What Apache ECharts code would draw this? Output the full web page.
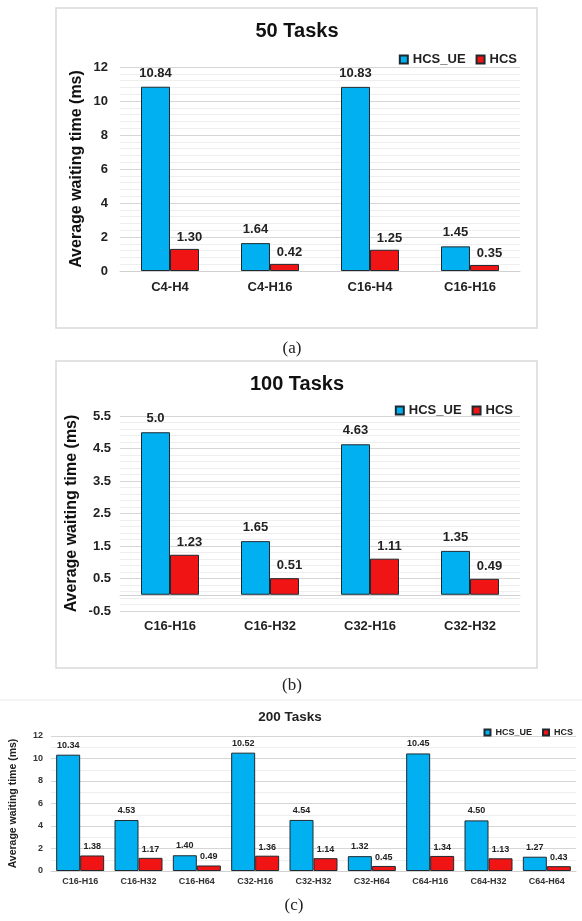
<!DOCTYPE html>
<html>
<head>
<meta charset="utf-8">
<script src="https://cdn.jsdelivr.net/npm/echarts@6/dist/echarts.min.js"></script>
<style>
  html, body { margin: 0; padding: 0; background: #ffffff; }
  #chart { width: 582px; height: 921px; }
</style>
</head>
<body>
<div id="chart"></div>
<script>
// Series names shared by all three panels
const seriesNames = ['HCS_UE', 'HCS'];

// (a) 50 tasks
const catsA = ['C4-H4', 'C4-H16', 'C16-H4', 'C16-H16'];
const ueA   = ['10.84', '1.64', '10.83', '1.45'];
const hcsA  = ['1.30', '0.42', '1.25', '0.35'];

// (b) 100 tasks
const catsB = ['C16-H16', 'C16-H32', 'C32-H16', 'C32-H32'];
const ueB   = ['5.0', '1.65', '4.63', '1.35'];
const hcsB  = ['1.23', '0.51', '1.11', '0.49'];

// (c) 200 tasks
const catsC = ['C16-H16', 'C16-H32', 'C16-H64', 'C32-H16', 'C32-H32', 'C32-H64', 'C64-H16', 'C64-H32', 'C64-H64'];
const ueC   = ['10.34', '4.53', '1.40', '10.52', '4.54', '1.32', '10.45', '4.50', '1.27'];
const hcsC  = ['1.38', '1.17', '0.49', '1.36', '1.14', '0.45', '1.34', '1.13', '0.43'];

const titles = ['50 Tasks', '100 Tasks', '200 Tasks'];
const panelTags = ['(a)', '(b)', '(c)'];
const yName = 'Average waiting time (ms)';

const SANS = '"Liberation Sans", Arial, sans-serif';
const SERIF = '"Liberation Serif", "Times New Roman", serif';
const BLUE = '#00B0F0';
const RED = '#F01414';
const MAJOR = '#d6d6d6';
const MINOR = '#eeeeee';

function catAxis(gridIndex, data, fontSize, margin, color, extra) {
  return Object.assign({
    type: 'category', gridIndex, data,
    axisTick: { show: false },
    axisLine: { lineStyle: { color: '#d0d0d0', width: 1 } },
    axisLabel: { fontFamily: SANS, fontWeight: 'bold', fontSize, margin, color, interval: 0 }
  }, extra || {});
}

function barSeries(name, xi, yi, data, color, barWidth, labelCfg) {
  return {
    type: 'bar', name, xAxisIndex: xi, yAxisIndex: yi, data,
    barWidth, barGap: '0%',
    itemStyle: { color, borderColor: '#1e2a30', borderWidth: 1 },
    label: Object.assign({
      show: true, position: 'top',
      fontFamily: SANS, fontWeight: 'bold', color: '#222',
      formatter: p => p.data
    }, labelCfg)
  };
}

function legend(right, top, icon, fontSize) {
  return {
    data: seriesNames, right, top, padding: 0,
    icon: 'rect', itemWidth: icon, itemHeight: icon, itemGap: 10,
    textStyle: { fontFamily: SANS, fontWeight: 'bold', fontSize, color: '#222' }
  };
}

function text(x, y, str, font, color) {
  return {
    type: 'text', x, y, silent: true,
    style: {
      text: str, font, fill: color,
      align: 'center', verticalAlign: 'middle',
      textAlign: 'center', textVerticalAlign: 'middle'
    }
  };
}

const option = {
  backgroundColor: '#ffffff',
  animation: false,
  grid: [
    { left: 120, top: 67, width: 400, height: 204 },
    { left: 120, top: 416, width: 400, height: 195 },
    { left: 50, top: 736, width: 526, height: 135 }
  ],
  legend: [
    legend(65, 53, 8, 13),
    legend(69, 404, 8, 13),
    legend(9, 728, 6, 9)
  ],
  xAxis: [
    catAxis(0, catsA, 13, 10, '#222'),
    catAxis(1, catsB, 13, 9, '#222', { axisLine: { onZero: true, onZeroAxisIndex: 1, lineStyle: { color: '#d0d0d0', width: 1 } } }),
    catAxis(2, catsC, 9, 6, '#333')
  ],
  yAxis: [
    {
      type: 'value', gridIndex: 0, min: 0, max: 12, interval: 2,
      name: yName, nameLocation: 'middle', nameGap: 35, nameMoveOverlap: false,
      nameTextStyle: { fontFamily: SANS, fontWeight: 'bold', fontSize: 16, color: '#111' },
      axisLine: { show: false }, axisTick: { show: false },
      axisLabel: { fontFamily: SANS, fontWeight: 'bold', fontSize: 13, margin: 12, color: '#222' },
      splitLine: { lineStyle: { color: MAJOR } },
      minorTick: { show: false, splitNumber: 5 },
      minorSplitLine: { show: true, lineStyle: { color: MINOR } }
    },
    {
      type: 'value', gridIndex: 1, min: -0.5, max: 5.5, interval: 0.5,
      name: yName, nameLocation: 'middle', nameGap: 40, nameMoveOverlap: false,
      nameTextStyle: { fontFamily: SANS, fontWeight: 'bold', fontSize: 16, color: '#111' },
      axisLine: { show: false }, axisTick: { show: false },
      axisLabel: {
        fontFamily: SANS, fontWeight: 'bold', fontSize: 13, margin: 9, color: '#222',
        // labels only at the half steps: -0.5, 0.5, 1.5 ...
        formatter: v => (Math.abs(Math.round(v * 2)) % 2 === 1 ? v.toFixed(1) : '')
      },
      splitLine: { show: false }
    },
    {
      type: 'value', gridIndex: 2, min: 0, max: 12, interval: 2,
      name: yName, nameLocation: 'middle', nameGap: 32, nameMoveOverlap: false,
      nameTextStyle: { fontFamily: SANS, fontWeight: 'bold', fontSize: 10.5, color: '#222' },
      axisLine: { show: false }, axisTick: { show: false },
      axisLabel: { fontFamily: SANS, fontWeight: 'bold', fontSize: 9, margin: 8, color: '#333' },
      splitLine: { lineStyle: { color: MAJOR } },
      minorTick: { show: false, splitNumber: 2 },
      minorSplitLine: { show: true, lineStyle: { color: MINOR } }
    },
    {
      // grid rules for panel (b): offset by 0.5 so rules fall on -0.5, -0.3, ... 5.5
      type: 'value', gridIndex: 1, min: 0, max: 6, interval: 0.2,
      position: 'left', silent: true,
      axisLine: { show: false }, axisTick: { show: false }, axisLabel: { show: false },
      splitLine: { lineStyle: { color: [MAJOR, MINOR, MINOR, MINOR, MINOR] } }
    }
  ],
  series: [
    barSeries(seriesNames[0], 0, 0, ueA, BLUE, 29, { fontSize: 13, distance: 7 }),
    barSeries(seriesNames[1], 0, 0, hcsA, RED, 29, { fontSize: 13, distance: 5, offset: [5, 0] }),
    barSeries(seriesNames[0], 1, 1, ueB, BLUE, 29, { fontSize: 13, distance: 7 }),
    barSeries(seriesNames[1], 1, 1, hcsB, RED, 29, { fontSize: 13, distance: 6, offset: [5, 0] }),
    barSeries(seriesNames[0], 2, 2, ueC, BLUE, 24, { fontSize: 9, distance: 5 }),
    barSeries(seriesNames[1], 2, 2, hcsC, RED, 24, { fontSize: 9, distance: 4 })
  ],
  graphic: [
    { type: 'rect', silent: true, shape: { x: 56, y: 8, width: 481, height: 320 },
      style: { fill: 'none', stroke: '#d9d9d9', lineWidth: 1.5 } },
    { type: 'rect', silent: true, shape: { x: 56, y: 361, width: 481, height: 307 },
      style: { fill: 'none', stroke: '#d9d9d9', lineWidth: 1.5 } },
    { type: 'line', silent: true, shape: { x1: 0, y1: 700, x2: 582, y2: 700 },
      style: { stroke: '#e8e8e8', lineWidth: 1 } },
    text(297, 31, titles[0], 'bold 20px ' + SANS, '#111'),
    text(297, 384, titles[1], 'bold 20px ' + SANS, '#111'),
    text(290, 717, titles[2], 'bold 13.5px ' + SANS, '#222'),
    text(292, 349, panelTags[0], '17px ' + SERIF, '#222'),
    text(292, 686, panelTags[1], '17px ' + SERIF, '#222'),
    text(294, 906, panelTags[2], '17px ' + SERIF, '#222')
  ]
};

const chart = echarts.init(document.getElementById('chart'), null, { renderer: 'canvas' });
chart.setOption(option);
</script>
</body>
</html>
